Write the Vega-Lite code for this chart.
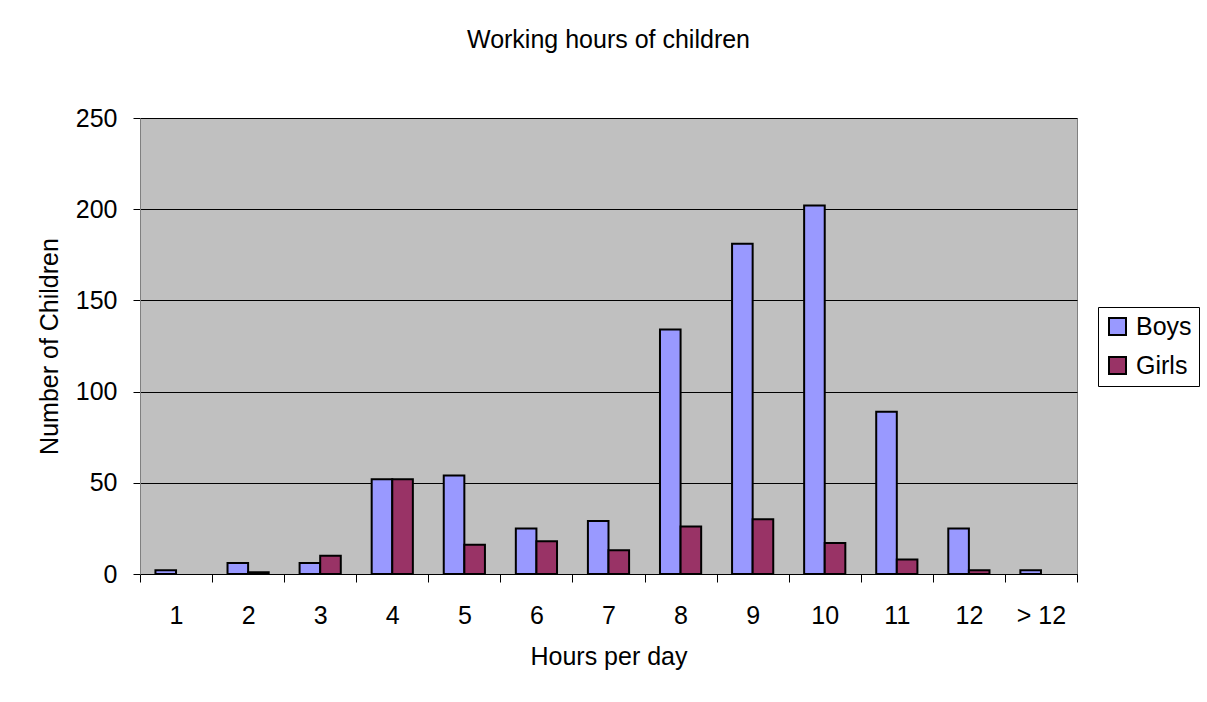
{
  "$schema": "https://vega.github.io/schema/vega-lite/v6.json",
  "width": 937,
  "height": 456,
  "autosize": "none",
  "padding": {"left": 140, "top": 118, "right": 130, "bottom": 128},
  "background": "white",
  "title": {
    "text": "Working hours of children",
    "fontSize": 25,
    "font": "Liberation Sans",
    "fontWeight": "normal",
    "color": "black",
    "anchor": "middle",
    "baseline": "alphabetic",
    "offset": 33
  },
  "data": {
    "values": [
      {"hours": "1", "gender": "Boys", "count": 2},
      {"hours": "2", "gender": "Boys", "count": 6},
      {"hours": "2", "gender": "Girls", "count": 1},
      {"hours": "3", "gender": "Boys", "count": 6},
      {"hours": "3", "gender": "Girls", "count": 10},
      {"hours": "4", "gender": "Boys", "count": 52},
      {"hours": "4", "gender": "Girls", "count": 52},
      {"hours": "5", "gender": "Boys", "count": 54},
      {"hours": "5", "gender": "Girls", "count": 16},
      {"hours": "6", "gender": "Boys", "count": 25},
      {"hours": "6", "gender": "Girls", "count": 18},
      {"hours": "7", "gender": "Boys", "count": 29},
      {"hours": "7", "gender": "Girls", "count": 13},
      {"hours": "8", "gender": "Boys", "count": 134},
      {"hours": "8", "gender": "Girls", "count": 26},
      {"hours": "9", "gender": "Boys", "count": 181},
      {"hours": "9", "gender": "Girls", "count": 30},
      {"hours": "10", "gender": "Boys", "count": 202},
      {"hours": "10", "gender": "Girls", "count": 17},
      {"hours": "11", "gender": "Boys", "count": 89},
      {"hours": "11", "gender": "Girls", "count": 8},
      {"hours": "12", "gender": "Boys", "count": 25},
      {"hours": "12", "gender": "Girls", "count": 2},
      {"hours": "> 12", "gender": "Boys", "count": 2}
    ]
  },
  "mark": {"type": "bar", "stroke": "black", "strokeWidth": 2},
  "encoding": {
    "x": {
      "field": "hours",
      "type": "nominal",
      "sort": ["1", "2", "3", "4", "5", "6", "7", "8", "9", "10", "11", "12", "> 12"],
      "scale": {"paddingInner": 0, "paddingOuter": 0},
      "axis": {
        "title": "Hours per day",
        "labelAngle": 0,
        "tickBand": "extent",
        "tickSize": 8,
        "labelPadding": 21,
        "titlePadding": 16,
        "domainColor": "black"
      }
    },
    "xOffset": {
      "field": "gender",
      "type": "nominal",
      "scale": {"paddingInner": 0, "paddingOuter": 0.75}
    },
    "y": {
      "field": "count",
      "type": "quantitative",
      "scale": {"domain": [0, 250], "nice": false},
      "axis": {
        "title": "Number of Children",
        "values": [0, 50, 100, 150, 200, 250],
        "grid": true,
        "gridColor": "black",
        "gridOpacity": 1,
        "gridWidth": 1,
        "tickSize": 7,
        "labelPadding": 16,
        "titlePadding": 13,
        "domainColor": "#808080"
      }
    },
    "color": {
      "field": "gender",
      "type": "nominal",
      "scale": {"domain": ["Boys", "Girls"], "range": ["#9999FF", "#993366"]},
      "legend": {
        "title": null,
        "orient": "none",
        "legendX": 958,
        "legendY": 189,
        "symbolType": "square",
        "symbolSize": 289,
        "symbolStrokeColor": "black",
        "symbolStrokeWidth": 2,
        "symbolOpacity": 1,
        "labelFontSize": 25,
        "labelFont": "Liberation Sans",
        "labelColor": "black",
        "labelOffset": 6,
        "rowPadding": 13,
        "padding": 7,
        "strokeColor": "black",
        "fillColor": "white"
      }
    }
  },
  "config": {
    "view": {"fill": "#C0C0C0", "stroke": "#808080", "strokeWidth": 1},
    "axis": {
      "labelFont": "Liberation Sans",
      "titleFont": "Liberation Sans",
      "labelFontSize": 25,
      "titleFontSize": 25,
      "titleFontWeight": "normal",
      "labelColor": "black",
      "titleColor": "black",
      "tickColor": "black",
      "tickWidth": 1
    }
  }
}
